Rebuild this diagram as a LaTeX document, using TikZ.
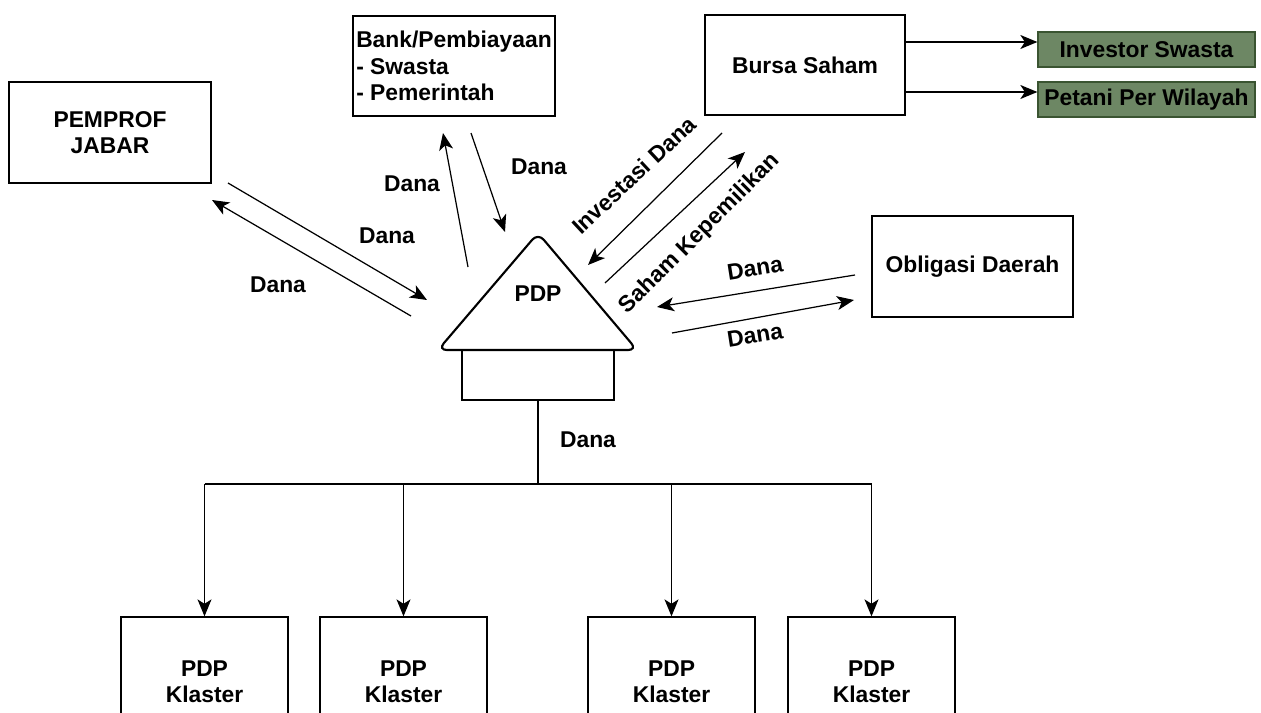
\documentclass[tikz,border=0pt]{standalone}
\usepackage{fontspec}
\setmainfont{Liberation Sans}
\usetikzlibrary{arrows.meta}
\definecolor{invfill}{HTML}{6D8764}
\definecolor{invline}{HTML}{3A5431}
\begin{document}
\begin{tikzpicture}[x=0.02cm, y=-0.02cm,
  every node/.style={font=\fontsize{13}{15}\selectfont\bfseries},
  box/.style={draw, line width=0.75pt, align=center, inner sep=0pt},
  tag/.style={box, fill=invfill, draw=invline, minimum width=4.34cm, minimum height=0.7cm},
  flow/.style={-{Stealth[length=3.4mm, width=2.8mm, inset=0.9mm]}, line width=0.7pt}]
\clip (0,0) rectangle (1261,713);
% Partners
\node[box, minimum width=4.04cm, minimum height=2.02cm] (jabar) at (110,132.5) {PEMPROF\\JABAR};
\node[box, align=left, minimum width=4.04cm, minimum height=2cm] (bank) at (454,66) {Bank/Pembiayaan\\- Swasta\\- Pemerintah};
\node[box, minimum width=4cm, minimum height=2cm] (bursa) at (805,65) {Bursa Saham};
\node[box, minimum width=4.02cm, minimum height=2.02cm] (oblig) at (972.5,266.5) {Obligasi Daerah};
\node[tag] (inv) at (1146.5,49.5) {Investor Swasta};
\node[tag] (tani) at (1146.5,99.5) {Petani Per Wilayah};
\draw[flow] (bursa.east |- 0,42) -- (inv.west |- 0,42);
\draw[flow] (bursa.east |- 0,92) -- (tani.west |- 0,92);
% PDP house
\draw[line width=1.2pt, rounded corners=5pt] (538,233) -- (637,350) -- (438,350) -- cycle;
\node (pdp) at (538,294) {PDP};
\node[box, minimum width=3.04cm, minimum height=1cm] (base) at (538,375) {};
% Flows around PDP
\coordinate (j1) at (228,183); \coordinate (j2) at (427,300);
\coordinate (j3) at (411,316); \coordinate (j4) at (212,200);
\coordinate (b1) at (468,267); \coordinate (b2) at (443,133);
\coordinate (b3) at (471,133); \coordinate (b4) at (505,232);
\coordinate (s1) at (722,133); \coordinate (s2) at (588,265);
\coordinate (s3) at (605,283); \coordinate (s4) at (745,152);
\coordinate (o1) at (855,275); \coordinate (o2) at (657,307);
\coordinate (o3) at (672,333); \coordinate (o4) at (854,300);
\draw[flow] (j1) -- (j2);
\draw[flow] (j3) -- (j4);
\draw[flow] (b1) -- (b2);
\draw[flow] (b3) -- (b4);
\draw[flow] (s1) -- (s2);
\draw[flow] (s3) -- (s4);
\draw[flow] (o1) -- (o2);
\draw[flow] (o3) -- (o4);
\node at (387,236) {Dana};
\node at (278,285) {Dana};
\node at (412,184) {Dana};
\node at (539,167) {Dana};
\node[rotate=43] at (634,175) {Investasi Dana};
\node[rotate=45] at (700,234) {Saham Kepemilikan};
\node[rotate=9] at (755,268) {Dana};
\node[rotate=9] at (755,335) {Dana};
% Clusters
\foreach \n/\x in {1/204.5, 2/403.5, 3/671.5, 4/871.5}
  \node[box, minimum width=3.34cm, minimum height=2.6cm] (k\n) at (\x,682) {PDP\\Klaster};
\coordinate (bus) at (538,484);
\draw[line width=0.7pt] (base.south) -- (bus);
\draw[line width=0.7pt] (k1.north |- bus) -- (k4.north |- bus);
\foreach \n in {1,...,4} \draw[flow] (k\n.north |- bus) -- (k\n.north);
\node at (588,440) {Dana};
\end{tikzpicture}
\end{document}
